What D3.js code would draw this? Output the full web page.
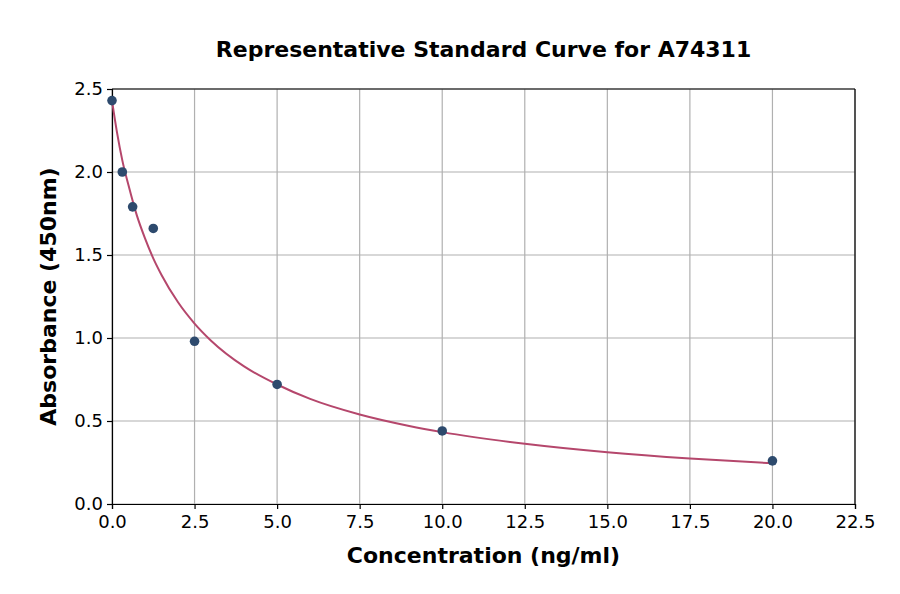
<!DOCTYPE html>
<html>
<head>
<meta charset="utf-8">
<script src="https://cdn.jsdelivr.net/npm/d3@7"></script>
<style>
  body { margin: 0; background: #fff; }
  text { font-family: "DejaVu Sans", sans-serif; fill: #000; }
</style>
</head>
<body>
<svg id="chart"></svg>
<script>
// Measured standards
const concentrations = [0, 0.3125, 0.625, 1.25, 2.5, 5, 10, 20];
const absorbances = [2.43, 2.0, 1.79, 1.66, 0.98, 0.72, 0.44, 0.26];

// Fitted curve
const curveX = [0, 0.15, 0.3125, 0.5, 0.75, 1, 1.25, 1.5, 2, 2.5, 3, 4, 5, 6, 7.5, 9, 10, 12.5, 15, 17.5, 20];
const curveY = [2.43, 2.24, 2.07, 1.92, 1.74, 1.60, 1.48, 1.38, 1.215, 1.087, 0.984, 0.829, 0.72, 0.633, 0.539, 0.470, 0.433, 0.363, 0.312, 0.274, 0.245];

const xTicks = [0, 2.5, 5, 7.5, 10, 12.5, 15, 17.5, 20, 22.5];
const yTicks = [0, 0.5, 1.0, 1.5, 2.0, 2.5];

const width = 900;
const height = 594;
const margin = { top: 89, right: 45, bottom: 90, left: 112 };

const svg = d3.select("#chart")
    .attr("width", width)
    .attr("height", height);

const x = d3.scaleLinear()
    .domain([0, 22.5])
    .range([margin.left, width - margin.right]);

const y = d3.scaleLinear()
    .domain([0, 2.5])
    .range([height - margin.bottom, margin.top]);

// Grid lines
svg.append("g")
    .selectAll("line")
    .data(xTicks)
    .join("line")
    .attr("x1", d => x(d)).attr("x2", d => x(d))
    .attr("y1", y(0)).attr("y2", y(2.5))
    .attr("stroke", "#b0b0b0")
    .attr("stroke-width", 1.2);

svg.append("g")
    .selectAll("line")
    .data(yTicks)
    .join("line")
    .attr("x1", x(0)).attr("x2", x(22.5))
    .attr("y1", d => y(d)).attr("y2", d => y(d))
    .attr("stroke", "#b0b0b0")
    .attr("stroke-width", 1.2);

// Axes
const xAxis = svg.append("g")
    .attr("transform", `translate(0,${y(0)})`)
    .call(d3.axisBottom(x).tickValues(xTicks).tickFormat(d3.format(".1f")).tickSizeOuter(0).tickSize(5).tickPadding(6));

const yAxis = svg.append("g")
    .attr("transform", `translate(${x(0)},0)`)
    .call(d3.axisLeft(y).tickValues(yTicks).tickFormat(d3.format(".1f")).tickSizeOuter(0).tickSize(5).tickPadding(4));

[xAxis, yAxis].forEach(g => {
    g.attr("font-size", null).attr("font-family", null);
    g.selectAll("text").style("font-size", "18px").style("font-family", "DejaVu Sans");
    g.selectAll("line").attr("stroke", "#000").attr("stroke-width", 1.2);
    g.select(".domain").attr("stroke", "#000").attr("stroke-width", 1.2);
});

// Frame: top and right spines
svg.append("line")
    .attr("x1", x(0)).attr("x2", x(22.5))
    .attr("y1", y(2.5)).attr("y2", y(2.5))
    .attr("stroke", "#000").attr("stroke-width", 1.2);
svg.append("line")
    .attr("x1", x(22.5)).attr("x2", x(22.5))
    .attr("y1", y(0)).attr("y2", y(2.5))
    .attr("stroke", "#000").attr("stroke-width", 1.2);

// Fitted curve
const line = d3.line()
    .x((d, i) => x(curveX[i]))
    .y(d => y(d))
    .curve(d3.curveMonotoneX);

svg.append("path")
    .datum(curveY)
    .attr("d", line)
    .attr("fill", "none")
    .attr("stroke", "#b5476c")
    .attr("stroke-width", 2);

// Points
svg.append("g")
    .selectAll("circle")
    .data(concentrations)
    .join("circle")
    .attr("cx", d => x(d))
    .attr("cy", (d, i) => y(absorbances[i]))
    .attr("r", 4.8)
    .attr("fill", "#2d4a6d");

// Title and labels
svg.append("text")
    .attr("x", (x(0) + x(22.5)) / 2)
    .attr("y", 57)
    .attr("text-anchor", "middle")
    .style("font-size", "22px")
    .style("font-weight", "bold")
    .text("Representative Standard Curve for A74311");

svg.append("text")
    .attr("x", (x(0) + x(22.5)) / 2)
    .attr("y", 563)
    .attr("text-anchor", "middle")
    .style("font-size", "22px")
    .style("font-weight", "bold")
    .text("Concentration (ng/ml)");

svg.append("text")
    .attr("transform", `translate(56,${(y(0) + y(2.5)) / 2}) rotate(-90)`)
    .attr("text-anchor", "middle")
    .style("font-size", "22px")
    .style("font-weight", "bold")
    .text("Absorbance (450nm)");
</script>
</body>
</html>
